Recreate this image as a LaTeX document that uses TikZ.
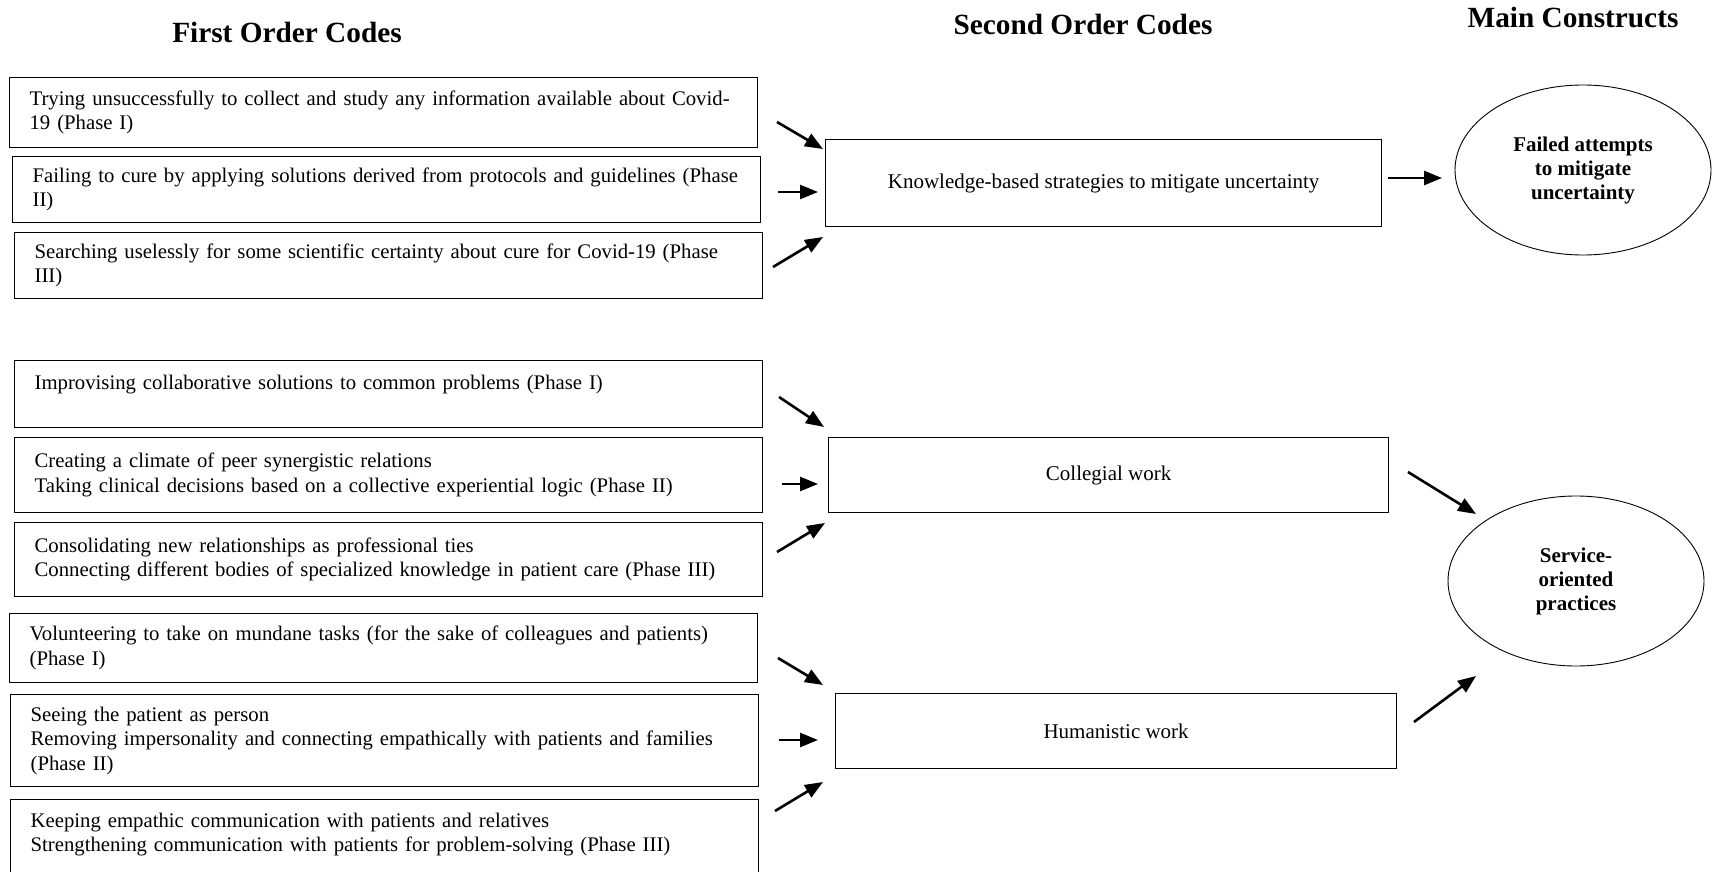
\documentclass[tikz,border=0pt]{standalone}
\usepackage{fontspec}
\setmainfont{Liberation Serif}
\usetikzlibrary{arrows.meta,shapes.geometric}
\begin{document}
\begin{tikzpicture}[x=1pt,y=-1pt,
  codebox/.style={draw, line width=1.2pt, anchor=north west, minimum width=748pt, text width=730pt, inner xsep=9pt, inner ysep=0pt, align=left, font=\fontsize{20.75}{24.5}\selectfont, execute at begin node={\leftskip=11pt\relax}},
  secbox/.style={draw, line width=1.2pt, anchor=north west, inner sep=0pt, align=center, font=\fontsize{21}{24.5}\selectfont},
  construct/.style={draw, ellipse, line width=0.9pt, inner sep=0pt, minimum width=256pt, minimum height=170pt, align=center, font=\bfseries\fontsize{21}{24}\selectfont},
  titlelabel/.style={anchor=base, font=\bfseries\fontsize{29.3}{32}\selectfont},
  arr/.style={-{Triangle[length=18pt,width=14pt]}, line width=2.6pt},
]
\useasboundingbox (0,0) rectangle (1713,872);
\clip (0,0) rectangle (1713,872);

% titles
\node[titlelabel] (t1) at (287,43) {First Order Codes};
\node[titlelabel] (t2) at (1083,35) {Second Order Codes};
\node[titlelabel] (t3) at (1573,28) {Main Constructs};

% first order codes
\node[codebox, minimum height=70pt] (b1) at (9,77) {Trying unsuccessfully to collect and study any information available about Covid-\\19 (Phase I)};
\node[codebox, minimum height=66pt] (b2) at (12,156) {Failing to cure by applying solutions derived from protocols and guidelines (Phase\\II)};
\node[codebox, minimum height=66pt] (b3) at (14,232) {Searching uselessly for some scientific certainty about cure for Covid-19 (Phase\\III)};

\node[codebox, minimum height=67pt] (c1) at (14,360) {Improvising collaborative solutions to common problems (Phase I)\\\mbox{}};
\node[codebox, minimum height=75pt] (c2) at (14,437) {Creating a climate of peer synergistic relations\\Taking clinical decisions based on a collective experiential logic (Phase II)};
\node[codebox, minimum height=74pt] (c3) at (14,522) {Consolidating new relationships as professional ties\\Connecting different bodies of specialized knowledge in patient care (Phase III)};

\node[codebox, minimum height=69pt] (d1) at (9,613) {Volunteering to take on mundane tasks (for the sake of colleagues and patients)\\(Phase I)};
\node[codebox, minimum height=92pt] (d2) at (10,694) {Seeing the patient as person\\Removing impersonality and connecting empathically with patients and families\\(Phase II)};
\node[codebox, minimum height=90pt] (d3) at (10,799) {Keeping empathic communication with patients and relatives\\Strengthening communication with patients for problem-solving (Phase III)\\\mbox{}};

% second order codes
\node[secbox, minimum width=556pt, minimum height=87pt] (k) at (825,139) {Knowledge-based strategies to mitigate uncertainty};
\node[secbox, minimum width=560pt, minimum height=75pt] (col) at (828,437) {Collegial work};
\node[secbox, minimum width=561pt, minimum height=75pt] (hum) at (835,693) {Humanistic work};

% main constructs
\node[construct] (e1) at (1583,170) {Failed attempts\\to mitigate\\uncertainty};
\node[construct] (e2) at (1576,581) {Service-\\oriented\\practices};

% arrow end points
\coordinate (a11s) at (777,122); \coordinate (a11e) at (823,149);
\coordinate (a12s) at (778,192); \coordinate (a12e) at (818,192);
\coordinate (a13s) at (773,267); \coordinate (a13e) at (823,237);
\coordinate (a14s) at (1388,178); \coordinate (a14e) at (1442,178);

\coordinate (a21s) at (779,397); \coordinate (a21e) at (824,427);
\coordinate (a22s) at (782,484); \coordinate (a22e) at (818,484);
\coordinate (a23s) at (777,552); \coordinate (a23e) at (825,523);
\coordinate (a24s) at (1408,472); \coordinate (a24e) at (1476,514);

\coordinate (a31s) at (778,658); \coordinate (a31e) at (823,685);
\coordinate (a32s) at (779,740); \coordinate (a32e) at (818,740);
\coordinate (a33s) at (775,811); \coordinate (a33e) at (823,782);
\coordinate (a34s) at (1414,722); \coordinate (a34e) at (1476,676);

\foreach \i in {11,12,13,14,21,22,23,24,31,32,33,34}
  \draw[arr] (a\i s) -- (a\i e);
\end{tikzpicture}
\end{document}
